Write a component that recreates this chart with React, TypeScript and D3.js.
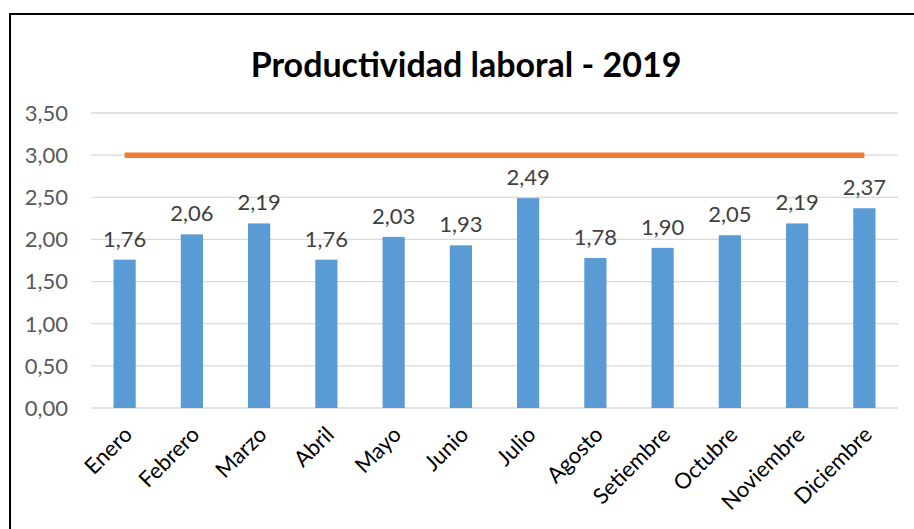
import React from "react";
import * as d3 from "d3";

const categories = ["Enero","Febrero","Marzo","Abril","Mayo","Junio","Julio","Agosto","Setiembre","Octubre","Noviembre","Diciembre"];
const productividad = [1.76, 2.06, 2.19, 1.76, 2.03, 1.93, 2.49, 1.78, 1.90, 2.05, 2.19, 2.37];
const meta = [3, 3, 3, 3, 3, 3, 3, 3, 3, 3, 3, 3];
const yTicks = [0, 0.5, 1, 1.5, 2, 2.5, 3, 3.5];
const title = "Productividad laboral - 2019";

const W = 914, H = 529;
const plot = { left: 91, right: 898, top: 113, bottom: 408 };
const FONT = "Lato, 'Open Sans', sans-serif";

export default function App() {
  const x = d3.scaleBand<string>().domain(categories).range([plot.left, plot.right]).paddingInner(0.67).paddingOuter(0.335);
  const xc = (c: string) => (x(c) as number) + x.bandwidth() / 2;
  const y = d3.scaleLinear().domain([0, 3.5]).range([plot.bottom, plot.top]);
  const fmt = (v: number) => d3.format(".2f")(v).replace(".", ",");
  const line = d3.line<number>().x((_, i) => xc(categories[i])).y((v) => y(v));

  return (
    <svg width={W} height={H} style={{ position: "absolute", left: 0, top: 0, background: "#fff" }} fontFamily={FONT}>
      <rect x={0} y={0} width={W} height={H} fill="#fff" />
      <rect x={10} y={14} width={930} height={560} fill="none" stroke="#000" strokeWidth={2} />
      <text x={466} y={77} textAnchor="middle" fontSize={34} fontWeight="bold" fill="#000">{title}</text>
      {yTicks.map((t) => (
        <g key={t}>
          <line x1={plot.left} x2={plot.right} y1={y(t)} y2={y(t)} stroke="#d9d9d9" strokeWidth={1.3} />
          <text x={68} y={y(t)} dy="0.36em" textAnchor="end" fontSize={22} fill="#595959">{fmt(t)}</text>
        </g>
      ))}
      {productividad.map((v, i) => (
        <rect key={categories[i]} x={x(categories[i])} y={y(v)} width={x.bandwidth()} height={y(0) - y(v)} fill="#5b9bd5" />
      ))}
      <path d={line(meta) || ""} stroke="#ed7d31" strokeWidth={5.5} fill="none" />
      {productividad.map((v, i) => (
        <text key={"l" + i} x={xc(categories[i])} y={y(v) - 13} textAnchor="middle" fontSize={22} fill="#404040">{fmt(v)}</text>
      ))}
      {categories.map((c) => (
        <text key={"c" + c} transform={`translate(${xc(c) + 9},${436}) rotate(-45)`} textAnchor="end" fontSize={22} fill="#000">{c}</text>
      ))}
    </svg>
  );
}
